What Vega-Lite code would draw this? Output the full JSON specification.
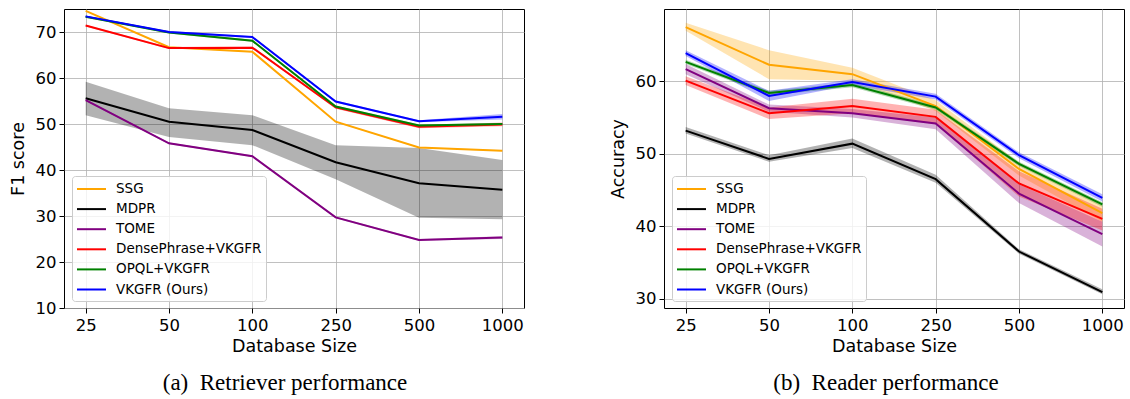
{
  "$schema": "https://vega.github.io/schema/vega-lite/v6.json",
  "background": "white",
  "padding": {"left": 8, "top": 8, "right": 6, "bottom": 0},
  "config": {
    "font": "DejaVu Sans",
    "view": {"stroke": "black", "strokeWidth": 1},
    "axis": {
      "labelFont": "DejaVu Sans", "labelFontSize": 16.5, "labelColor": "black",
      "titleFont": "DejaVu Sans", "titleFontSize": 17.5, "titleFontWeight": "normal", "titleColor": "black",
      "tickColor": "black", "tickSize": 5, "domain": false,
      "gridColor": "#b0b0b0", "gridOpacity": 0.8, "gridWidth": 1
    },
    "legend": {
      "symbolType": "M-2,0L2,0", "symbolSize": 210, "symbolStrokeWidth": 2, "symbolOffset": 6.5,
      "labelFont": "DejaVu Sans", "labelFontSize": 13.5, "labelColor": "black", "labelOffset": 16,
      "fillColor": "rgba(255,255,255,0.8)", "strokeColor": "#cccccc", "cornerRadius": 3,
      "padding": 4.5, "rowPadding": 5.1
    },
    "title": {"font": "Liberation Serif", "fontSize": 23, "fontWeight": "normal", "color": "black", "orient": "bottom", "anchor": "middle", "frame": "group"}
  },
  "datasets": {
    "retriever": [
      {"method": "SSG", "size": 25, "value": 74.6, "lo": 74.5, "hi": 74.7},
      {"method": "SSG", "size": 50, "value": 66.7, "lo": 66.6, "hi": 66.8},
      {"method": "SSG", "size": 100, "value": 65.7, "lo": 65.6, "hi": 65.8},
      {"method": "SSG", "size": 250, "value": 50.5, "lo": 50.4, "hi": 50.6},
      {"method": "SSG", "size": 500, "value": 44.9, "lo": 44.8, "hi": 45.0},
      {"method": "SSG", "size": 1000, "value": 44.2, "lo": 44.1, "hi": 44.3},
      {"method": "MDPR", "size": 25, "value": 55.6, "lo": 51.9, "hi": 59.2},
      {"method": "MDPR", "size": 50, "value": 50.5, "lo": 47.2, "hi": 53.4},
      {"method": "MDPR", "size": 100, "value": 48.7, "lo": 45.4, "hi": 51.9},
      {"method": "MDPR", "size": 250, "value": 41.7, "lo": 38.0, "hi": 45.4},
      {"method": "MDPR", "size": 500, "value": 37.1, "lo": 29.6, "hi": 44.8},
      {"method": "MDPR", "size": 1000, "value": 35.7, "lo": 29.3, "hi": 42.2},
      {"method": "TOME", "size": 25, "value": 55.2, "lo": 55.0, "hi": 55.4},
      {"method": "TOME", "size": 50, "value": 45.8, "lo": 45.6, "hi": 46.0},
      {"method": "TOME", "size": 100, "value": 43.0, "lo": 42.8, "hi": 43.2},
      {"method": "TOME", "size": 250, "value": 29.7, "lo": 29.5, "hi": 29.9},
      {"method": "TOME", "size": 500, "value": 24.8, "lo": 24.6, "hi": 25.0},
      {"method": "TOME", "size": 1000, "value": 25.3, "lo": 25.0, "hi": 25.6},
      {"method": "DensePhrase+VKGFR", "size": 25, "value": 71.4, "lo": 71.2, "hi": 71.6},
      {"method": "DensePhrase+VKGFR", "size": 50, "value": 66.5, "lo": 66.3, "hi": 66.7},
      {"method": "DensePhrase+VKGFR", "size": 100, "value": 66.6, "lo": 66.4, "hi": 66.8},
      {"method": "DensePhrase+VKGFR", "size": 250, "value": 53.6, "lo": 53.3, "hi": 53.9},
      {"method": "DensePhrase+VKGFR", "size": 500, "value": 49.4, "lo": 49.1, "hi": 49.7},
      {"method": "DensePhrase+VKGFR", "size": 1000, "value": 49.9, "lo": 49.5, "hi": 50.3},
      {"method": "OPQL+VKGFR", "size": 25, "value": 73.3, "lo": 73.1, "hi": 73.5},
      {"method": "OPQL+VKGFR", "size": 50, "value": 69.9, "lo": 69.7, "hi": 70.1},
      {"method": "OPQL+VKGFR", "size": 100, "value": 68.1, "lo": 67.9, "hi": 68.3},
      {"method": "OPQL+VKGFR", "size": 250, "value": 53.8, "lo": 53.6, "hi": 54.0},
      {"method": "OPQL+VKGFR", "size": 500, "value": 49.7, "lo": 49.5, "hi": 49.9},
      {"method": "OPQL+VKGFR", "size": 1000, "value": 50.0, "lo": 49.8, "hi": 50.2},
      {"method": "VKGFR (Ours)", "size": 25, "value": 73.4, "lo": 73.2, "hi": 73.6},
      {"method": "VKGFR (Ours)", "size": 50, "value": 70.0, "lo": 69.8, "hi": 70.2},
      {"method": "VKGFR (Ours)", "size": 100, "value": 68.9, "lo": 68.7, "hi": 69.1},
      {"method": "VKGFR (Ours)", "size": 250, "value": 54.9, "lo": 54.7, "hi": 55.1},
      {"method": "VKGFR (Ours)", "size": 500, "value": 50.6, "lo": 50.4, "hi": 50.8},
      {"method": "VKGFR (Ours)", "size": 1000, "value": 51.6, "lo": 51.0, "hi": 52.2}
    ],
    "reader": [
      {"method": "SSG", "size": 25, "value": 67.5, "lo": 67.0, "hi": 68.1},
      {"method": "SSG", "size": 50, "value": 62.3, "lo": 60.3, "hi": 64.3},
      {"method": "SSG", "size": 100, "value": 61.0, "lo": 60.1, "hi": 61.9},
      {"method": "SSG", "size": 250, "value": 56.6, "lo": 55.9, "hi": 57.4},
      {"method": "SSG", "size": 500, "value": 47.9, "lo": 47.0, "hi": 48.8},
      {"method": "SSG", "size": 1000, "value": 41.8, "lo": 40.6, "hi": 42.9},
      {"method": "MDPR", "size": 25, "value": 53.2, "lo": 52.8, "hi": 53.7},
      {"method": "MDPR", "size": 50, "value": 49.3, "lo": 48.9, "hi": 49.8},
      {"method": "MDPR", "size": 100, "value": 51.4, "lo": 50.8, "hi": 52.1},
      {"method": "MDPR", "size": 250, "value": 46.5, "lo": 46.0, "hi": 47.1},
      {"method": "MDPR", "size": 500, "value": 36.5, "lo": 36.2, "hi": 36.8},
      {"method": "MDPR", "size": 1000, "value": 30.9, "lo": 30.6, "hi": 31.3},
      {"method": "TOME", "size": 25, "value": 61.7, "lo": 61.0, "hi": 62.4},
      {"method": "TOME", "size": 50, "value": 56.3, "lo": 55.8, "hi": 56.8},
      {"method": "TOME", "size": 100, "value": 55.6, "lo": 55.0, "hi": 56.2},
      {"method": "TOME", "size": 250, "value": 54.2, "lo": 53.4, "hi": 55.0},
      {"method": "TOME", "size": 500, "value": 44.5, "lo": 43.2, "hi": 45.8},
      {"method": "TOME", "size": 1000, "value": 38.9, "lo": 37.2, "hi": 40.6},
      {"method": "DensePhrase+VKGFR", "size": 25, "value": 60.1, "lo": 59.5, "hi": 60.7},
      {"method": "DensePhrase+VKGFR", "size": 50, "value": 55.6, "lo": 54.8, "hi": 56.4},
      {"method": "DensePhrase+VKGFR", "size": 100, "value": 56.6, "lo": 55.6, "hi": 57.6},
      {"method": "DensePhrase+VKGFR", "size": 250, "value": 55.1, "lo": 54.1, "hi": 56.1},
      {"method": "DensePhrase+VKGFR", "size": 500, "value": 45.9, "lo": 44.1, "hi": 47.6},
      {"method": "DensePhrase+VKGFR", "size": 1000, "value": 41.0, "lo": 39.4, "hi": 42.4},
      {"method": "OPQL+VKGFR", "size": 25, "value": 62.7, "lo": 62.4, "hi": 63.0},
      {"method": "OPQL+VKGFR", "size": 50, "value": 58.4, "lo": 58.1, "hi": 58.7},
      {"method": "OPQL+VKGFR", "size": 100, "value": 59.5, "lo": 59.2, "hi": 59.8},
      {"method": "OPQL+VKGFR", "size": 250, "value": 56.4, "lo": 56.1, "hi": 56.7},
      {"method": "OPQL+VKGFR", "size": 500, "value": 48.6, "lo": 48.3, "hi": 48.9},
      {"method": "OPQL+VKGFR", "size": 1000, "value": 43.0, "lo": 42.7, "hi": 43.3},
      {"method": "VKGFR (Ours)", "size": 25, "value": 63.9, "lo": 63.5, "hi": 64.3},
      {"method": "VKGFR (Ours)", "size": 50, "value": 58.0, "lo": 57.3, "hi": 58.7},
      {"method": "VKGFR (Ours)", "size": 100, "value": 59.9, "lo": 59.5, "hi": 60.3},
      {"method": "VKGFR (Ours)", "size": 250, "value": 57.9, "lo": 57.5, "hi": 58.3},
      {"method": "VKGFR (Ours)", "size": 500, "value": 49.8, "lo": 49.4, "hi": 50.2},
      {"method": "VKGFR (Ours)", "size": 1000, "value": 43.9, "lo": 43.4, "hi": 44.4}
    ]
  },
  "bounds": "flush",
  "spacing": 140,
  "resolve": {
    "scale": {"x": "independent", "y": "independent", "stroke": "independent", "fill": "independent"},
    "legend": {"stroke": "independent", "fill": "independent"}
  },
  "hconcat": [
    {
      "width": 460, "height": 299,
      "data": {"name": "retriever"},
      "title": {"text": "(a)\u00a0 Retriever performance", "dx": -9, "offset": 17},
      "encoding": {
        "x": {"field": "size", "type": "ordinal", "scale": {"type": "point", "padding": 0.26},
              "axis": {"title": "Database Size", "labelAngle": 0, "grid": true, "labelPadding": 4, "titlePadding": 4}}
      },
      "layer": [
        {
          "mark": {"type": "area", "fillOpacity": 0.3, "clip": true},
          "encoding": {
            "y": {"field": "lo", "type": "quantitative", "scale": {"domain": [10, 75], "nice": false, "zero": false},
                  "axis": {"title": "F1 score", "values": [10, 20, 30, 40, 50, 60, 70], "grid": true, "labelPadding": 3, "titlePadding": 8}},
            "y2": {"field": "hi"},
            "fill": {"field": "method", "type": "nominal",
                     "scale": {"domain": ["VKGFR (Ours)", "OPQL+VKGFR", "DensePhrase+VKGFR", "TOME", "MDPR", "SSG"],
                               "range": ["#0000ff", "#008000", "#ff0000", "#800080", "#000000", "#ffa500"]},
                     "legend": null}
          }
        },
        {
          "mark": {"type": "line", "strokeWidth": 2, "clip": true},
          "encoding": {
            "y": {"field": "value", "type": "quantitative", "scale": {"domain": [10, 75], "nice": false, "zero": false},
                  "axis": {"title": "F1 score", "values": [10, 20, 30, 40, 50, 60, 70], "grid": true, "labelPadding": 3, "titlePadding": 8}},
            "stroke": {"field": "method", "type": "nominal",
                       "scale": {"domain": ["SSG", "MDPR", "TOME", "DensePhrase+VKGFR", "OPQL+VKGFR", "VKGFR (Ours)"],
                                 "range": ["#ffa500", "#000000", "#800080", "#ff0000", "#008000", "#0000ff"]},
                       "legend": {"title": null, "orient": "none", "legendX": 8, "legendY": 167}}
          }
        }
      ]
    },
    {
      "width": 460, "height": 299,
      "data": {"name": "reader"},
      "title": {"text": "(b)\u00a0 Reader performance", "dx": -8, "offset": 17},
      "encoding": {
        "x": {"field": "size", "type": "ordinal", "scale": {"type": "point", "padding": 0.26},
              "axis": {"title": "Database Size", "labelAngle": 0, "grid": true, "labelPadding": 4, "titlePadding": 4}}
      },
      "layer": [
        {
          "mark": {"type": "area", "fillOpacity": 0.3, "clip": true},
          "encoding": {
            "y": {"field": "lo", "type": "quantitative", "scale": {"domain": [28.7, 70], "nice": false, "zero": false},
                  "axis": {"title": "Accuracy", "values": [30, 40, 50, 60], "grid": true, "labelPadding": 3, "titlePadding": 8}},
            "y2": {"field": "hi"},
            "fill": {"field": "method", "type": "nominal",
                     "scale": {"domain": ["VKGFR (Ours)", "OPQL+VKGFR", "DensePhrase+VKGFR", "TOME", "MDPR", "SSG"],
                               "range": ["#0000ff", "#008000", "#ff0000", "#800080", "#000000", "#ffa500"]},
                     "legend": null}
          }
        },
        {
          "mark": {"type": "line", "strokeWidth": 2, "clip": true},
          "encoding": {
            "y": {"field": "value", "type": "quantitative", "scale": {"domain": [28.7, 70], "nice": false, "zero": false},
                  "axis": {"title": "Accuracy", "values": [30, 40, 50, 60], "grid": true, "labelPadding": 3, "titlePadding": 8}},
            "stroke": {"field": "method", "type": "nominal",
                       "scale": {"domain": ["SSG", "MDPR", "TOME", "DensePhrase+VKGFR", "OPQL+VKGFR", "VKGFR (Ours)"],
                                 "range": ["#ffa500", "#000000", "#800080", "#ff0000", "#008000", "#0000ff"]},
                       "legend": {"title": null, "orient": "none", "legendX": 8, "legendY": 167}}
          }
        }
      ]
    }
  ]
}
